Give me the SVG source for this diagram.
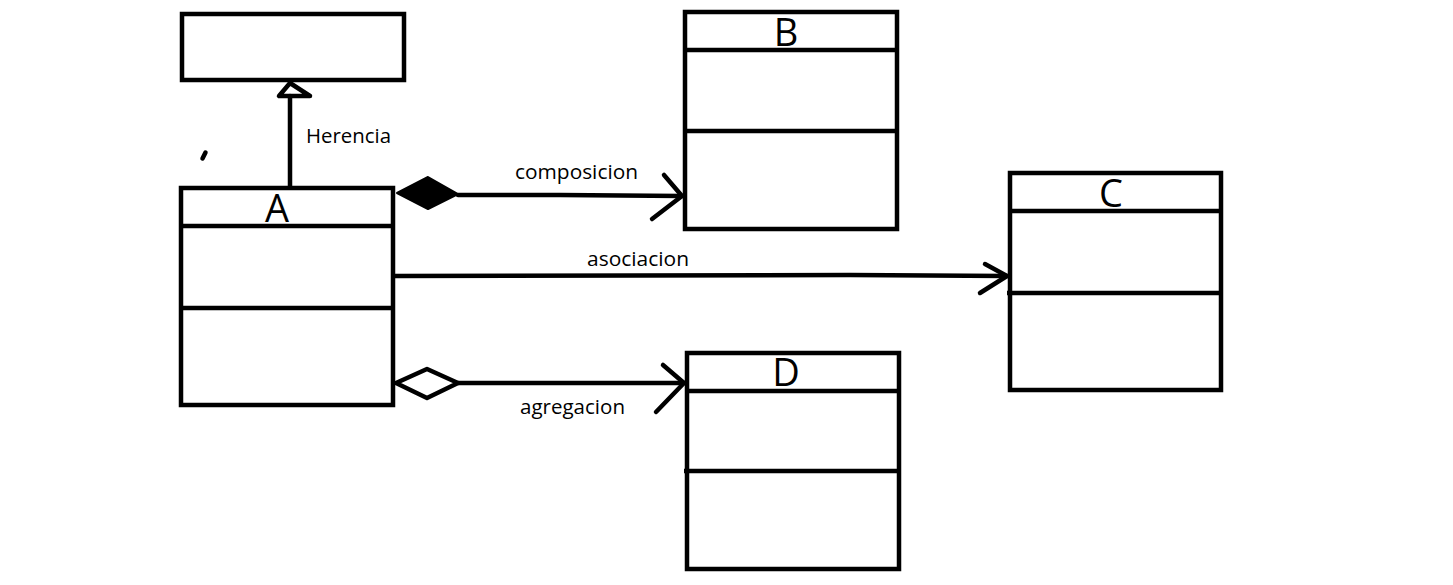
<svg xmlns="http://www.w3.org/2000/svg" width="1453" height="585" viewBox="0 0 1453 585">
<style>
.box{fill:#fff;stroke:#000;stroke-width:4.5}
.div{stroke:#000;stroke-width:4.5}
.ln{fill:none;stroke:#000;stroke-width:4.5;stroke-linecap:round;stroke-linejoin:round}
.title{font-family:"Open Sans","Liberation Sans",sans-serif;font-size:38px;fill:#000;text-anchor:middle}
.lbl{font-family:"Open Sans","Liberation Sans",sans-serif;font-size:20px;fill:#000}
</style>
<rect width="1453" height="585" fill="#fff"/>
<g id="parent">
<rect class="box" x="182" y="14" width="222" height="66"/>
</g>
<g id="A">
<rect class="box" x="181" y="188" width="212" height="217"/>
<line class="div" x1="179" y1="226" x2="393" y2="226"/>
<line class="div" x1="179" y1="308" x2="393" y2="308"/>
<text class="title" x="277" y="222">A</text>
</g>
<g id="B">
<rect class="box" x="685" y="12" width="212" height="217"/>
<line class="div" x1="683" y1="50" x2="899" y2="50"/>
<line class="div" x1="683" y1="131" x2="897" y2="131"/>
<text class="title" x="786" y="46">B</text>
</g>
<g id="C">
<rect class="box" x="1010" y="173" width="211" height="217"/>
<line class="div" x1="1008" y1="211" x2="1223" y2="211"/>
<line class="div" x1="1007" y1="293" x2="1221" y2="293"/>
<text class="title" x="1111" y="207">C</text>
</g>
<g id="D">
<rect class="box" x="687" y="353" width="212" height="216"/>
<line class="div" x1="685" y1="391" x2="901" y2="391"/>
<line class="div" x1="684" y1="471" x2="899" y2="471"/>
<text class="title" x="786" y="386">D</text>
</g>
<g id="connectors">
<!-- herencia -->
<line class="ln" x1="290" y1="186" x2="290" y2="96"/>
<polygon class="ln" points="290,83 279,96 310,96"/>
<text class="lbl" x="306" y="143" textLength="85" lengthAdjust="spacingAndGlyphs">Herencia</text>
<!-- composicion -->
<polygon points="397,193 428,177 458,194 428,209" fill="#000" stroke="#000" stroke-width="2" stroke-linejoin="round"/>
<path class="ln" d="M458,195 L560,195 L682,196"/>
<path class="ln" d="M664,175 L682,196 L652,219"/>
<text class="lbl" x="515" y="179" textLength="123" lengthAdjust="spacingAndGlyphs">composicion</text>
<!-- asociacion -->
<path class="ln" d="M395,276 L850,275 L1007,276"/>
<path class="ln" d="M985,264 L1007,276 L980,293"/>
<text class="lbl" x="587" y="266" textLength="102" lengthAdjust="spacingAndGlyphs">asociacion</text>
<!-- agregacion -->
<polygon class="ln" points="396,383 427,369 458,383 427,398"/>
<line class="ln" x1="458" y1="383" x2="684" y2="383"/>
<path class="ln" d="M663,365 L684,383 L656,412"/>
<text class="lbl" x="520" y="414" textLength="105" lengthAdjust="spacingAndGlyphs">agregacion</text>
</g>
<path class="ln" d="M202.5,158.5 L205.5,152.5" stroke-width="3.5"/>
</svg>
